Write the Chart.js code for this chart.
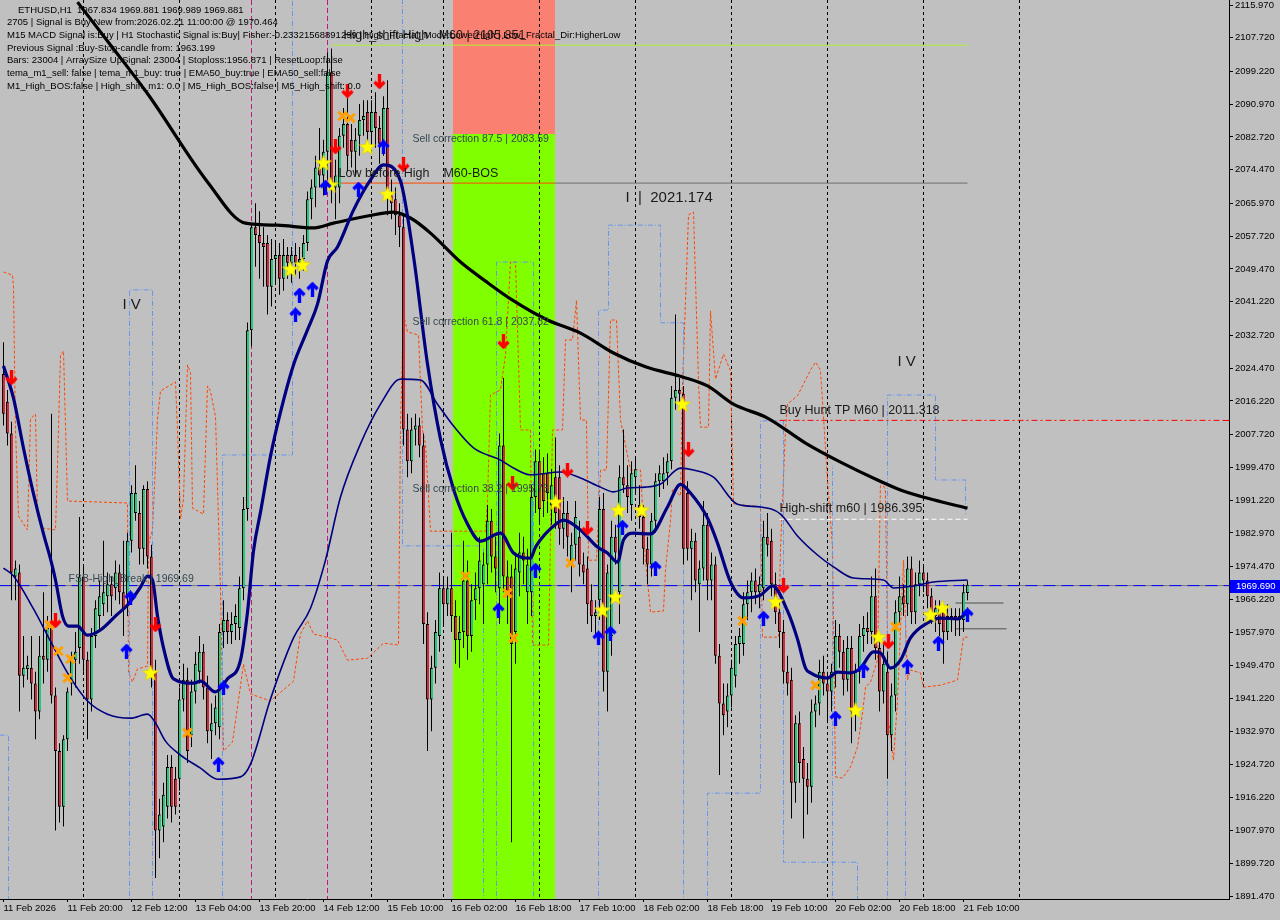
<!DOCTYPE html>
<html>
<head>
<meta charset="utf-8">
<title>ETHUSD,H1</title>
<script src="https://cdn.jsdelivr.net/npm/chart.js@4.4.1/dist/chart.umd.min.js"></script>
<style>
    html, body { margin: 0; padding: 0; background: #c0c0c0; }
    #wrap { width: 1280px; height: 920px; }
    canvas { display: block; background: #c0c0c0; }
</style>
</head>
<body>
<div id="wrap"><canvas id="chart-eth" width="1280" height="920"></canvas></div>
<script>
// ---- axis labels ----
const tickIdx = [0, 16, 32, 48, 64, 80, 96, 112, 128, 144, 160, 176, 192, 208, 224, 240];
const tickText = ['11 Feb 2026', '11 Feb 20:00', '12 Feb 12:00', '13 Feb 04:00', '13 Feb 20:00', '14 Feb 12:00',
    '15 Feb 10:00', '16 Feb 02:00', '16 Feb 18:00', '17 Feb 10:00', '18 Feb 02:00', '18 Feb 18:00',
    '19 Feb 10:00', '20 Feb 02:00', '20 Feb 18:00', '21 Feb 10:00'];
const priceTicks = [2115.97, 2107.72, 2099.22, 2090.97, 2082.72, 2074.47, 2065.97, 2057.72, 2049.47, 2041.22,
    2032.72, 2024.47, 2016.22, 2007.72, 1999.47, 1991.22, 1982.97, 1974.47, 1966.22, 1957.97, 1949.47,
    1941.22, 1932.97, 1924.72, 1916.22, 1907.97, 1899.72, 1891.47];

// ---- H1 candles: [open, high, low, close] ----
const ohlc = [
    [2023, 2031, 2010, 2013], [2016, 2019, 2005, 2008], [2008, 2011, 1966, 1973], [1972, 1976, 1966, 1974], [1973, 1975, 1938, 1947], [1947, 1957, 1944, 1949],
    [1949, 1952, 1946, 1949.3], [1949, 1957, 1941, 1945], [1945, 1948, 1931, 1938], [1938, 1957, 1936, 1952], [1952, 1968, 1945, 1951], [1951, 1962, 1948, 1959],
    [1959, 2013, 1940, 1942], [1942, 1944, 1908, 1928], [1928, 1930, 1910, 1914], [1914, 1932, 1909, 1931], [1931, 1944, 1928, 1943], [1945, 1953, 1942, 1951],
    [1951, 1958, 1944, 1953], [1954, 1987, 1950, 1972], [1972, 1975, 1948, 1951], [1951, 1953, 1931, 1941], [1941, 1959, 1938, 1957], [1957, 1966, 1954, 1964],
    [1962, 1971, 1958, 1967], [1965, 1981, 1962, 1968], [1967, 1973, 1963, 1970], [1970, 1972, 1962, 1967], [1969, 1976, 1966, 1973], [1973, 1975, 1965, 1968],
    [1968, 1981, 1957, 1964], [1967, 1983, 1962, 1981], [1981, 1995, 1978, 1993], [1988, 2000, 1986, 1993], [1988, 1991, 1975, 1979], [1979, 1995, 1975, 1994],
    [1994, 1996, 1974, 1977], [1977, 1980, 1944, 1948], [1948, 1951, 1896, 1908], [1908, 1916, 1901, 1912], [1909, 1920, 1905, 1917], [1914, 1927, 1911, 1924],
    [1924, 1927, 1910, 1914], [1921, 1924, 1912, 1914], [1921, 1944, 1918, 1941], [1941, 1950, 1938, 1946], [1946, 1949, 1925, 1928], [1932, 1946, 1929, 1943],
    [1943, 1953, 1940, 1950], [1948, 1957, 1945, 1953], [1953, 1955, 1941, 1944], [1944, 1947, 1930, 1933], [1933, 1940, 1926, 1935], [1935, 1942, 1932, 1939],
    [1934, 1960, 1931, 1958], [1958, 1966, 1954, 1961], [1961, 1963, 1955, 1958], [1958, 1963, 1955, 1960], [1960, 1965, 1956, 1962], [1959, 1972, 1956, 1969],
    [1969, 1992, 1966, 1989], [1989, 2036, 1986, 2034], [2034, 2061, 2030, 2060], [2060, 2066, 2050, 2058], [2058, 2064, 2047, 2056], [2056, 2060, 2045, 2055],
    [2056, 2058, 2038, 2045], [2045, 2057, 2040, 2052], [2052, 2056, 2046, 2053], [2053, 2056, 2043, 2047], [2047, 2057, 2044, 2053], [2053, 2055, 2047, 2051],
    [2051, 2055, 2046, 2053], [2053, 2056, 2048, 2051], [2051, 2055, 2047, 2052], [2052, 2058, 2049, 2056], [2056, 2069, 2054, 2067], [2067, 2072, 2062, 2070],
    [2070, 2078, 2065, 2075], [2075, 2085, 2070, 2073], [2073, 2082, 2068, 2079], [2079, 2104, 2072, 2099], [2099, 2105, 2066, 2070], [2070, 2077, 2062, 2073],
    [2070, 2085, 2066, 2083], [2083, 2090, 2080, 2086], [2086, 2095, 2074, 2078], [2082, 2086, 2075, 2079], [2079, 2085, 2073, 2082], [2083, 2091, 2078, 2087],
    [2087, 2092, 2083, 2088], [2089, 2092, 2080, 2084], [2084, 2092, 2080, 2089], [2089, 2094, 2080, 2085], [2085, 2088, 2076, 2081], [2081, 2093, 2078, 2090],
    [2090, 2097, 2063, 2068], [2068, 2072, 2062, 2066], [2067, 2070, 2058, 2063], [2063, 2066, 2055, 2060], [2060, 2063, 2005, 2009], [2009, 2013, 1997, 2001],
    [2001, 2012, 1998, 2009], [2009, 2013, 2005, 2010], [2010, 2012, 2002, 2005], [2005, 2008, 1955, 1960], [1960, 1963, 1928, 1941], [1941, 1952, 1933, 1949],
    [1949, 1961, 1945, 1958], [1957, 1973, 1953, 1969], [1969, 1972, 1960, 1965], [1965, 1972, 1962, 1969], [1969, 1983, 1958, 1962], [1962, 1966, 1950, 1956],
    [1956, 1962, 1949, 1958], [1958, 1981, 1954, 1971], [1971, 1976, 1951, 1957], [1957, 1970, 1953, 1966], [1966, 1973, 1961, 1969], [1969, 1982, 1965, 1976],
    [1970, 1978, 1960, 1975], [1975, 1990, 1970, 1986], [1986, 1989, 1973, 1977], [1977, 1982, 1968, 1974], [1969, 2008, 1960, 2005], [2005, 2022, 1968, 1972],
    [1972, 1976, 1960, 1968], [1972, 1975, 1905, 1955], [1958, 1978, 1950, 1974], [1973, 1983, 1967, 1978], [1978, 1982, 1970, 1976], [1968, 1979, 1960, 1975],
    [1968, 1995, 1962, 1992], [1992, 2004, 1988, 2001], [2001, 2004, 1985, 1989], [1998, 2002, 1987, 1991], [1998, 2003, 1988, 1993], [1990, 1999, 1985, 1995],
    [1997, 2007, 1984, 1988], [1997, 2000, 1980, 1984], [1984, 1992, 1979, 1988], [1988, 1991, 1977, 1982], [1975, 1983, 1968, 1980], [1980, 1991, 1976, 1987],
    [1982, 1986, 1972, 1975], [1975, 1978, 1970, 1973], [1974, 1977, 1960, 1965], [1966, 1970, 1958, 1962], [1962, 1966, 1957, 1963], [1966, 1992, 1961, 1989],
    [1989, 1993, 1943, 1948], [1948, 1975, 1938, 1973], [1957, 1986, 1952, 1982], [1982, 1985, 1975, 1978], [1968, 2000, 1960, 1997], [1997, 2009, 1993, 1995],
    [1995, 2000, 1988, 1992], [1990, 2001, 1986, 1998], [1997, 2002, 1993, 1999], [1990, 1995, 1984, 1987], [1987, 1990, 1975, 1979], [1979, 1982, 1970, 1975],
    [1975, 1988, 1972, 1986], [1986, 1998, 1983, 1996], [1996, 2000, 1992, 1998], [1996, 2002, 1994, 1998], [1998, 2003, 1995, 2001], [2001, 2020, 1999, 2017],
    [2017, 2038, 2014, 2019], [2019, 2022, 2014, 2018], [2018, 2020, 1975, 1979], [1993, 1996, 1976, 1979], [1979, 1984, 1966, 1981], [1981, 1983, 1968, 1971],
    [1970, 1976, 1958, 1974], [1974, 1991, 1971, 1985], [1985, 1988, 1966, 1971], [1971, 1978, 1966, 1975], [1975, 1977, 1950, 1952], [1952, 1955, 1922, 1940],
    [1940, 1945, 1932, 1937], [1938, 1945, 1934, 1942], [1942, 1951, 1939, 1949], [1947, 1957, 1944, 1955], [1955, 1959, 1950, 1957], [1955, 1968, 1952, 1965],
    [1965, 1971, 1961, 1968], [1968, 1973, 1963, 1971], [1971, 1974, 1965, 1968], [1968, 1972, 1964, 1970], [1969, 1986, 1966, 1982], [1982, 1988, 1977, 1980],
    [1981, 1984, 1967, 1970], [1970, 1973, 1960, 1963], [1963, 1966, 1954, 1958], [1958, 1961, 1945, 1948], [1948, 1952, 1942, 1945], [1946, 1949, 1911, 1920],
    [1920, 1937, 1915, 1935], [1935, 1938, 1920, 1925], [1926, 1929, 1906, 1921], [1921, 1925, 1912, 1919], [1919, 1941, 1915, 1938], [1938, 1942, 1934, 1940],
    [1940, 1951, 1937, 1948], [1948, 1952, 1942, 1945], [1945, 1948, 1935, 1943], [1943, 1950, 1938, 1948], [1948, 1961, 1944, 1957], [1957, 1960, 1949, 1953],
    [1953, 1956, 1942, 1946], [1946, 1957, 1943, 1954], [1954, 1957, 1930, 1938], [1938, 1950, 1933, 1948], [1948, 1960, 1945, 1957], [1957, 1962, 1953, 1959],
    [1959, 1963, 1955, 1958], [1958, 1972, 1955, 1967], [1967, 1974, 1951, 1954], [1954, 1957, 1938, 1943], [1943, 1955, 1940, 1950], [1948, 1953, 1921, 1932],
    [1932, 1945, 1928, 1942], [1942, 1966, 1938, 1963], [1963, 1972, 1960, 1967], [1967, 1970, 1962, 1965], [1965, 1977, 1962, 1974], [1974, 1977, 1960, 1963],
    [1963, 1973, 1960, 1970], [1970, 1976, 1967, 1973], [1973, 1975, 1968, 1971], [1971, 1973, 1964, 1967], [1967, 1969, 1960, 1963], [1962, 1966, 1958, 1964],
    [1964, 1966, 1957, 1960], [1963, 1965, 1950, 1958], [1958, 1965, 1956, 1962], [1962, 1964, 1958, 1961], [1962, 1964, 1957, 1961], [1961, 1964, 1957, 1962],
    [1961, 1970, 1958, 1968], [1967.834, 1971, 1966, 1969.881]
];

// ---- moving averages: [bar index, price] ----
const maSlow = [[18.5, 2116.7], [26.75, 2105.9], [36.25, 2093.3], [51, 2071.4], [60.5, 2061.0], [68.5, 2060.5], [77.25, 2059.8],
    [82.5, 2061.0], [91, 2062.8], [97.5, 2063.8], [101.75, 2062.3], [106.75, 2058.5], [114.25, 2051.2], [120.5, 2046.4],
    [127.25, 2041.6], [136, 2036.6], [144.25, 2033.3], [152.5, 2028.3], [160.5, 2024.8], [170, 2022.2], [176, 2020.0],
    [182.5, 2015.4], [191, 2011.9], [200.5, 2005.6], [209.25, 2000.8], [218.5, 1996.3], [224.25, 1993.8], [232.5, 1991.3], [241, 1989.2]];
const maFast = [[0, 2025.0], [2.5, 2016.9], [5, 2004.3], [7.5, 1992.8], [10, 1982.7], [11.75, 1976.4], [13, 1971.1], [14.75, 1962.0],
    [16.25, 1959.5], [18.5, 1959.5], [21, 1957.2], [24.25, 1958.5], [28.5, 1962.5], [31, 1964.8], [34.25, 1969.3], [36, 1972.1],
    [37.25, 1971.1], [38.5, 1962.0], [40, 1954.0], [42.5, 1946.2], [47.5, 1945.1], [49.25, 1945.6], [53, 1942.9], [56, 1946.2],
    [59.25, 1950.9], [61, 1963.0], [62.5, 1978.4], [64.25, 1988.2], [66.75, 2002.3], [69.25, 2013.4], [72.5, 2025.3], [76, 2034.1],
    [78.5, 2040.6], [81, 2051.5], [83.5, 2055.0], [87.5, 2064.3], [91.75, 2071.9], [95, 2075.7], [99.25, 2071.6], [102.5, 2052.7],
    [106, 2025.5], [109.25, 2006.6], [112.5, 1994.0], [116, 1985.2], [119.25, 1980.9], [124.25, 1982.9], [127.5, 1977.9],
    [131.75, 1976.6], [133, 1979.4], [138.5, 1985.5], [140, 1986.2], [144.25, 1983.7], [148.5, 1979.4], [151, 1977.9],
    [153.5, 1975.6], [155, 1981.2], [157.5, 1982.9], [161.75, 1982.7], [166, 1989.5], [169.25, 1995.2], [171.75, 1993.0],
    [176, 1986.7], [178.5, 1980.4], [181.75, 1970.6], [185, 1966.6], [189.25, 1967.3], [192.25, 1969.6], [196, 1963.3],
    [198.5, 1956.2], [200.5, 1948.9], [201.75, 1947.7], [206, 1946.4], [208.5, 1947.9], [211.75, 1947.7], [214.25, 1948.9],
    [217.5, 1953.0], [219.25, 1952.7], [221.75, 1948.9], [224.25, 1950.9], [226.75, 1956.5], [231, 1960.3], [234.25, 1961.5],
    [238.5, 1961.3], [241, 1963.0]];
const maMid = [[0, 1974.1], [2.5, 1972.1], [7.5, 1963.8], [11.75, 1955.7], [16, 1947.7], [21, 1940.6], [26, 1937.3], [31.75, 1936.3],
    [36, 1937.3], [38, 1935.1], [40.5, 1930.5], [44.25, 1927.0], [49.25, 1923.7], [53.5, 1920.9], [59.25, 1921.5], [61.75, 1924.7],
    [66.75, 1941.1], [72.5, 1956.5], [76.75, 1964.0], [80.5, 1976.1], [84.25, 1992.0], [89.25, 2005.4], [94.25, 2015.4],
    [99.25, 2021.7], [104.25, 2021.5], [108.5, 2015.4], [112.5, 2009.9], [117.5, 2004.4], [124.25, 2001.3], [127.5, 1999.3],
    [131.75, 1997.6], [139.25, 1998.3], [144.25, 1996.8], [149.25, 1994.5], [152.5, 1993.3], [156, 1994.3], [160.5, 1994.5],
    [164.25, 1995.3], [169.25, 1999.3], [172.5, 1998.8], [177.5, 1997.0], [183.5, 1990.2], [189.25, 1989.5], [194.25, 1987.7],
    [198.5, 1982.2], [203.5, 1977.4], [207.5, 1974.4], [212.5, 1971.6], [220, 1971.1], [222.5, 1969.1], [227.5, 1969.6],
    [232.5, 1970.6], [241, 1971.1]];

// ---- fractal bands ----
const upperBand = [[0, 2048.7], [2.25, 2047.9], [2.5, 2044.9], [3, 2008.9], [3.75, 1987.2], [6, 1983.7], [6.75, 2011.7], [8, 2012.9],
    [8.5, 1987.2], [9.75, 1984.2], [13, 1983.7], [13.5, 1999.8], [14.25, 2027.8], [15, 2028.8], [16, 1991.0], [31, 1990.5],
    [31.25, 1947.7], [32.25, 1945.4], [33.5, 1948.7], [36, 1949.4], [36.25, 1980.2], [37.25, 1983.7], [38.5, 2011.7], [39.25, 2018.7],
    [43, 2021.0], [43.5, 2008.9], [44.25, 1986.5], [45, 1991.5], [46, 2025.3], [46.75, 2023.3], [47.25, 1989.2], [50, 1987.7],
    [51, 2020.0], [51.75, 2018.7], [53, 2012.2], [54.25, 1968.6], [55, 1928.0], [57.25, 1930.3], [59.25, 1944.4], [60, 1949.9],
    [61.75, 1942.4], [66.75, 1940.6], [72.5, 1945.6], [74.25, 1957.5], [76, 1960.8], [77.5, 1957.5], [83.5, 1956.0], [86, 1950.9],
    [91, 1951.4], [95, 1955.2], [98.75, 1954.7], [99.25, 2009.9], [100, 2038.1], [101, 2033.6], [103.75, 2032.8], [104.75, 2008.9],
    [105.5, 2005.4], [106.75, 1983.4], [120.5, 1983.4], [121, 1991.3], [121.75, 2017.7], [124.25, 2019.0], [125.5, 2027.8],
    [126.75, 2051.2], [128, 2051.2], [129.25, 2008.9], [131.75, 2008.9], [132.25, 1954.7], [136.25, 1954.7], [137.25, 2008.9],
    [139.75, 2008.9], [140.5, 2031.6], [142.25, 2031.6], [143.25, 2041.6], [144.25, 2011.4], [145.75, 2011.4], [146.25, 1976.1],
    [148.25, 1976.1], [149.25, 1998.8], [150.75, 1998.8], [151.75, 2036.6], [153.25, 2036.6], [154.25, 2011.4], [156.75, 1998.8],
    [159.25, 1998.8], [160.5, 1976.1], [161.75, 1963.0], [165, 1963.3], [165.5, 1973.6], [166.75, 1986.0], [167.25, 1994.0],
    [169.25, 1992.3], [169.75, 2020.0], [171.25, 2063.1], [172.5, 2063.8], [173.75, 2021.0], [174.25, 2009.6], [176.25, 2009.6],
    [176.75, 2038.9], [178, 2021.7], [180, 2028.0], [181.75, 2023.8], [182.5, 1990.3], [189.25, 1989.5], [189.75, 1956.7],
    [193.75, 1956.7], [194.25, 1978.7], [195.5, 2009.1], [196, 2015.4], [198.5, 2017.5], [201.75, 2024.0], [203, 2026.0],
    [204.25, 2024.0], [206, 1996.3], [207.25, 1979.4], [208, 1921.5], [209.75, 1921.2], [211.75, 1924.0], [213.5, 1929.0],
    [214.75, 1937.6], [215.5, 1944.1], [216.75, 1945.4], [218.5, 1950.9], [219.25, 1996.3], [220.5, 1993.8], [221.25, 1935.8],
    [222.5, 1925.7], [223.5, 1940.9], [225, 1976.1], [226, 1945.9], [226.75, 1948.4], [229.25, 1947.7], [230, 1944.1],
    [234.25, 1944.6], [238.5, 1945.9], [240, 1956.7], [241, 1956.7]];
const lowerBand = [
    [[-1, 1932.0], [1.25, 1932.0], [1.25, 1889]],
    [[31.5, 1889], [31.5, 2044.2], [37.25, 2044.2], [37.25, 1889]],
    [[54.75, 1889], [54.75, 2002.6], [72.25, 2002.6], [72.25, 2120]],
    [[99.75, 2120], [99.75, 1979.7], [120, 1979.7], [120, 1889]],
    [[123.25, 1889], [123.25, 2051.2], [132.5, 2051.2], [132.5, 1889]],
    [[148.75, 1889], [148.75, 2039.1], [151.25, 2039.1], [151.25, 2060.5], [164.25, 2060.5], [164.25, 2035.9], [170, 2035.9], [170, 1889]],
    [[176, 1889], [176, 1917.4], [189.25, 1917.4], [189.25, 2011.2], [195, 2011.2], [195, 1900.0], [213.5, 1900.0], [213.5, 1889]],
    [[207.25, 1889], [207.25, 2000.0]],
    [[221, 1889], [221, 2017.7], [233, 2017.7], [233, 1996.3], [240.5, 1996.3], [240.5, 1987.5]],
    [[225.5, 1889], [225.5, 1962.0]]
];

// ---- signal marks: [bar index, price] ----
const sellArrows = [[2, 2022.0], [13, 1960.8], [38, 1959.8], [86, 2094.3], [94, 2096.6], [83, 2080.2], [100, 2075.7],
    [125, 2031.1], [127.25, 1995.5], [141, 1998.8], [146, 1984.2], [171.25, 2003.9], [195, 1969.6], [221.25, 1955.5]];
const buyArrows = [[31.75, 1966.6], [30.75, 1953.2], [55, 1943.9], [53.75, 1924.7], [73, 2037.9], [74, 2042.9], [77.25, 2044.4],
    [80.5, 2070.1], [88.75, 2069.6], [95, 2080.2], [123.75, 1963.5], [133, 1973.6], [148.75, 1956.5], [151.75, 1957.7],
    [154.75, 1984.4], [163, 1974.1], [190, 1961.5], [208, 1936.3], [215, 1948.4], [226, 1949.2], [233.75, 1955.2], [241, 1962.3]];
const stars = [[36.75, 1947.7], [71.75, 2049.4], [74.75, 2050.5], [80, 2076.2], [81.75, 2070.6], [91, 2080.2], [96, 2068.3],
    [138, 1990.7], [149.75, 1963.5], [153, 1966.8], [153.75, 1988.7], [159.5, 1988.7], [169.75, 2015.4], [193, 1965.6],
    [213, 1938.3], [218.75, 1956.7], [231.75, 1962.3], [234.75, 1964.0]];
const crosses = [[11.5, 1959.8], [13.75, 1953.2], [16.75, 1951.2], [16, 1946.4], [46, 1932.6], [84.75, 2088.0], [86.75, 2087.5],
    [115.5, 1972.1], [126, 1967.8], [127.5, 1956.5], [141.75, 1975.4], [184.75, 1960.8], [203, 1944.6], [223, 1959.3]];

// ---- levels and zones ----
const daySeparators = [20, 44, 68, 92, 110, 134, 158, 182, 206, 230, 254];
const signalLines = [62, 81];
const corrZone = [112.25, 137.75];
const corrLevels = [2083.59, 2037.82, 1995.73];
const hsHigh = 2105.851;
const lowBeforeHigh = 2071.1;
const buyHuntTP = 2011.318;
const highShiftM60 = 1986.395;
const fsbBreak = 1969.69;
const lastPrice = '1969.690';

// ---- texts ----
const infoLines = [
    'ETHUSD,H1  1967.834 1969.881 1969.989 1969.881',
    '2705 | Signal is Buy New from:2026.02.21 11:00:00 @ 1970.464',
    'M15 MACD Signal is:Buy | H1 Stochastic Signal is:Buy| Fisher:-0.23321568891299 | High_Fractal_Mode:LowerHigh | Low_Fractal_Dir:HigherLow',
    'Previous Signal :Buy-Stop-candle from: 1963.199',
    'Bars: 23004 | ArraySize UpSignal: 23004 | Stoploss:1956.871 | ResetLoop:false',
    'tema_m1_sell: false | tema_m1_buy: true | EMA50_buy:true | EMA50_sell:false',
    'M1_High_BOS:false | High_shift_m1: 0.0 | M5_High_BOS:false | M5_High_shift: 0.0'
];
const levelNotes = [
    ['High_shift High   M60 | 2105.851', 85, 2108.2],
    ['Low before High    M60-BOS', 83.75, 2073.6],
    ['Buy Hunt TP M60 | 2011.318', 194, 2013.9],
    ['High-shift m60 | 1986.395', 194, 1989.0]
];
const corrNotes = [
    ['Sell correction 87.5 | 2083.59', 102.25, 2082.2],
    ['Sell correction 61.8 | 2037.82', 102.25, 2036.1],
    ['Sell correction 38.2 | 1995.73', 102.25, 1994.0],
    ['FSB-High_Break | 1969.69', 16.25, 1971.3]
];
const waveNotes = [
    ['I  |  2021.174', 155.5, 2067.3],
    ['I V', 29.75, 2040.4],
    ['I V', 223.5, 2026.0]
];

const FONT = '"Liberation Sans", Arial, sans-serif';

function pts(list) {
    return list.map(p => ({ x: p[0], y: p[1] }));
}

// joins step segments into one series, with a gap point between them
function segments(list) {
    const out = [];
    list.forEach((seg, k) => {
        if (k > 0) out.push({ x: seg[0][0], y: null });
        seg.forEach(p => out.push({ x: p[0], y: p[1] }));
    });
    return out;
}

function makeArrow(color, up) {
    const c = document.createElement('canvas');
    c.width = 13;
    c.height = 15;
    const g = c.getContext('2d');
    if (up) {
        g.translate(0, 15);
        g.scale(1, -1);
    }
    g.strokeStyle = color;
    g.lineWidth = 3.4;
    g.lineJoin = 'miter';
    g.beginPath();
    g.moveTo(6.5, 0);
    g.lineTo(6.5, 12);
    g.moveTo(1.5, 7.5);
    g.lineTo(6.5, 12.5);
    g.lineTo(11.5, 7.5);
    g.stroke();
    return c;
}

function makeStar() {
    const c = document.createElement('canvas');
    c.width = 18;
    c.height = 18;
    const g = c.getContext('2d');
    g.beginPath();
    for (let k = 0; k < 10; k++) {
        const r = k % 2 === 0 ? 8.5 : 3.6;
        const a = -Math.PI / 2 + k * Math.PI / 5;
        g.lineTo(9 + r * Math.cos(a), 9.5 + r * Math.sin(a));
    }
    g.closePath();
    g.fillStyle = '#ffff00';
    g.fill();
    g.strokeStyle = '#d8c800';
    g.lineWidth = 0.6;
    g.stroke();
    return c;
}

// keep the plot flush with the window edges, like the terminal does
function noPadding(s) {
    s.paddingLeft = 0;
    s.paddingRight = 0;
    s.paddingTop = 0;
    s.paddingBottom = 0;
}

const mtOverlay = {
    id: 'mtOverlay',
    beforeDatasetsDraw(chart) {
        const { ctx, chartArea: a, scales: { x, y } } = chart;
        ctx.save();
        ctx.beginPath();
        ctx.rect(a.left, a.top, a.width, a.height);
        ctx.clip();

        // correction zone: salmon above 87.5, green below
        const zl = Math.round(x.getPixelForValue(corrZone[0]));
        const zr = Math.round(x.getPixelForValue(corrZone[1]));
        const zs = Math.round(y.getPixelForValue(corrLevels[0]));
        ctx.fillStyle = '#fa8072';
        ctx.fillRect(zl, a.top, zr - zl, zs - a.top);
        ctx.fillStyle = '#80ff00';
        ctx.fillRect(zl, zs, zr - zl, a.bottom - zs);

        // period separators
        ctx.lineWidth = 1;
        ctx.setLineDash([3, 3]);
        ctx.strokeStyle = '#000000';
        daySeparators.forEach(i => {
            const px = Math.floor(x.getPixelForValue(i)) + 0.5;
            ctx.beginPath();
            ctx.moveTo(px, a.top);
            ctx.lineTo(px, a.bottom);
            ctx.stroke();
        });
        ctx.strokeStyle = '#c0187a';
        ctx.setLineDash([5, 3]);
        signalLines.forEach(i => {
            const px = Math.floor(x.getPixelForValue(i)) + 0.5;
            ctx.beginPath();
            ctx.moveTo(px, a.top);
            ctx.lineTo(px, a.bottom);
            ctx.stroke();
        });
        ctx.restore();
    },
    afterDatasetsDraw(chart) {
        const { ctx, chartArea: a, scales: { x, y } } = chart;
        ctx.save();
        ctx.beginPath();
        ctx.rect(a.left, a.top, a.width, a.height);
        ctx.clip();
        ctx.textBaseline = 'middle';
        ctx.textAlign = 'left';

        ctx.font = '12.5px ' + FONT;
        ctx.fillStyle = '#1a1a1a';
        levelNotes.forEach(n => ctx.fillText(n[0], x.getPixelForValue(n[1]), y.getPixelForValue(n[2])));

        ctx.font = '10.5px ' + FONT;
        ctx.fillStyle = '#36474f';
        corrNotes.forEach(n => ctx.fillText(n[0], x.getPixelForValue(n[1]), y.getPixelForValue(n[2])));

        ctx.font = '15px ' + FONT;
        ctx.fillStyle = '#1a1a1a';
        waveNotes.forEach(n => ctx.fillText(n[0], x.getPixelForValue(n[1]), y.getPixelForValue(n[2])));

        // chart comment block
        ctx.font = '9.5px ' + FONT;
        ctx.fillStyle = '#000000';
        infoLines.forEach((t, k) => ctx.fillText(t, k === 0 ? 18 : 7, 10 + k * 12.7));
        ctx.restore();
    },
    afterDraw(chart) {
        const { ctx, chartArea: a, scales: { y } } = chart;
        ctx.save();
        // red mark for the TP level on the price axis
        const ty = Math.round(y.getPixelForValue(buyHuntTP)) + 0.5;
        ctx.strokeStyle = '#ff0000';
        ctx.beginPath();
        ctx.moveTo(a.right - 6, ty);
        ctx.lineTo(a.right, ty);
        ctx.stroke();
        // current price label
        const py = Math.round(y.getPixelForValue(fsbBreak));
        ctx.fillStyle = '#0000ff';
        ctx.fillRect(a.right + 1, py - 6, 50, 13);
        ctx.fillStyle = '#ffffff';
        ctx.font = '9.5px ' + FONT;
        ctx.textBaseline = 'middle';
        ctx.fillText(lastPrice, a.right + 7, py + 0.5);
        ctx.restore();
    }
};

document.addEventListener('DOMContentLoaded', () => {
    const arrowDown = makeArrow('#ff0000', false);
    const arrowUp = makeArrow('#0000ff', true);
    const starImg = makeStar();

    const wickData = ohlc.map((c, i) => ({ x: i, y: [c[2], c[1]] }));
    const bodyData = ohlc.map((c, i) => ({ x: i, y: Math.abs(c[0] - c[3]) < 0.4 ? [c[0] - 0.3, c[3] + 0.3] : [c[0], c[3]] }));
    const bodyColors = ohlc.map(c => c[3] >= c[0] ? '#20c878' : '#d42838');

    const hline = (from, to, price) => [{ x: from, y: price }, { x: to, y: price }];

    const ctxEth = document.getElementById('chart-eth').getContext('2d');
    new Chart(ctxEth, {
        type: 'bar',
        data: {
            datasets: [
                { type: 'line', label: 'sell', data: pts(sellArrows), showLine: false, pointStyle: arrowDown, pointRadius: 7, order: 1 },
                { type: 'line', label: 'buy', data: pts(buyArrows), showLine: false, pointStyle: arrowUp, pointRadius: 7, order: 1 },
                { type: 'line', label: 'stars', data: pts(stars), showLine: false, pointStyle: starImg, pointRadius: 8, order: 1 },
                { type: 'line', label: 'cross', data: pts(crosses), showLine: false, pointStyle: 'crossRot', pointRadius: 6,
                  pointBorderWidth: 3, pointBorderColor: '#ffa000', order: 1 },
                { type: 'line', label: 'MA fast', data: pts(maFast), borderColor: '#000080', borderWidth: 3.2,
                  pointRadius: 0, cubicInterpolationMode: 'monotone', order: 2 },
                { type: 'line', label: 'MA slow', data: pts(maSlow), borderColor: '#000000', borderWidth: 3.2,
                  pointRadius: 0, cubicInterpolationMode: 'monotone', order: 3 },
                { type: 'line', label: 'MA mid', data: pts(maMid), borderColor: '#000080', borderWidth: 1.6,
                  pointRadius: 0, cubicInterpolationMode: 'monotone', order: 4 },
                { label: 'body', data: bodyData, backgroundColor: bodyColors, borderColor: '#000000',
                  borderWidth: { left: 1, right: 0, top: 1, bottom: 1 },
                  borderSkipped: false, barThickness: 3, grouped: false, inflateAmount: 0, order: 5 },
                { label: 'wick', data: wickData, backgroundColor: '#000000', borderWidth: 0,
                  barThickness: 1, grouped: false, inflateAmount: 0, order: 6 },
                { type: 'line', label: 'fsb', data: hline(-1, 310, fsbBreak), borderColor: '#0000ff', borderWidth: 1,
                  borderDash: [12, 6], pointRadius: 0, order: 7 },
                { type: 'line', label: 'bid', data: hline(-1, 310, fsbBreak), borderColor: '#7a7a7a', borderWidth: 1,
                  pointRadius: 0, order: 8 },
                { type: 'line', label: 'hs high', data: hline(82, 241, hsHigh), borderColor: '#b0f030', borderWidth: 1,
                  pointRadius: 0, order: 7 },
                { type: 'line', label: 'lbh a', data: hline(81.25, 137.75, lowBeforeHigh), borderColor: '#ff4500', borderWidth: 1,
                  pointRadius: 0, order: 7 },
                { type: 'line', label: 'lbh b', data: hline(137.75, 241, lowBeforeHigh), borderColor: '#6e6e6e', borderWidth: 1,
                  pointRadius: 0, order: 7 },
                { type: 'line', label: 'tp', data: hline(194, 310, buyHuntTP), borderColor: '#ff0000', borderWidth: 1,
                  borderDash: [6, 3, 2, 3], pointRadius: 0, order: 7 },
                { type: 'line', label: 'hs m60', data: hline(194, 241, highShiftM60), borderColor: '#ffffff', borderWidth: 1,
                  borderDash: [5, 3], pointRadius: 0, order: 7 },
                { type: 'line', label: 'sl a', data: hline(238, 250, 1965.3), borderColor: '#505050', borderWidth: 1,
                  pointRadius: 0, order: 7 },
                { type: 'line', label: 'sl b', data: hline(238, 250.75, 1958.8), borderColor: '#505050', borderWidth: 1,
                  pointRadius: 0, order: 7 },
                { type: 'line', label: 'lower band', data: segments(lowerBand), borderColor: '#6495ed', borderWidth: 1,
                  borderDash: [5, 2, 1, 2], pointRadius: 0, spanGaps: false, order: 8 },
                { type: 'line', label: 'upper band', data: pts(upperBand), borderColor: '#ff4500', borderWidth: 1,
                  borderDash: [3, 2], pointRadius: 0, order: 9 }
            ]
        },
        options: {
            responsive: false,
            devicePixelRatio: 1,
            animation: false,
            events: [],
            layout: { autoPadding: false, padding: 0 },
            plugins: { legend: { display: false }, tooltip: { enabled: false } },
            scales: {
                x: {
                    type: 'linear',
                    position: 'bottom',
                    min: -0.875,
                    max: 306.375,
                    offset: false,
                    grid: { display: true, drawOnChartArea: false, drawTicks: true, tickLength: 3, color: '#000000', offset: false },
                    border: { display: true, color: '#000000' },
                    afterBuildTicks: s => { s.ticks = tickIdx.map(v => ({ value: v })); },
                    afterFit: s => { s.height = 21; noPadding(s); },
                    ticks: {
                        autoSkip: false, maxRotation: 0, minRotation: 0, align: 'start', padding: 1,
                        color: '#000000', font: { family: FONT, size: 9.5 },
                        callback: v => tickText[tickIdx.indexOf(v)]
                    }
                },
                y: {
                    type: 'linear',
                    position: 'right',
                    min: 1890.73,
                    max: 2117.23,
                    beginAtZero: false,
                    grid: { display: true, drawOnChartArea: false, drawTicks: true, tickLength: 4, color: '#000000' },
                    border: { display: true, color: '#000000' },
                    afterBuildTicks: s => { s.ticks = priceTicks.map(v => ({ value: v })); },
                    afterFit: s => { s.width = 51; noPadding(s); },
                    ticks: {
                        autoSkip: false, padding: 2, color: '#000000', font: { family: FONT, size: 9.5 },
                        callback: v => v.toFixed(3)
                    }
                }
            }
        },
        plugins: [mtOverlay]
    });
});
</script>
</body>
</html>
